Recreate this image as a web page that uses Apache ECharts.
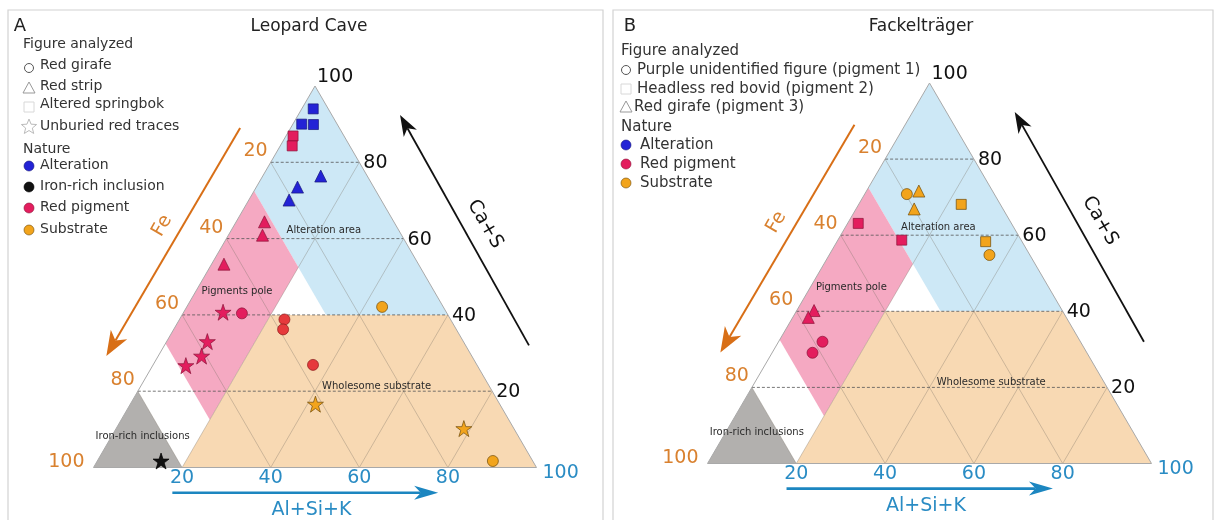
<!DOCTYPE html>
<html><head><meta charset="utf-8">
<script src="https://cdn.jsdelivr.net/npm/echarts@6/dist/echarts.min.js"></script>
<style>html,body{margin:0;padding:0;background:#fff}#c{width:1217px;height:520px}</style>
</head><body><div id="c"></div>
<script>
// ---------------- DATA (ternary compositions: [Fe, Al+Si+K, Ca+S]) ----------------
const ticks = [20, 40, 60, 80];
const edgeTicks = [20, 40, 60, 80, 100];
const panelTitles = ['Leopard Cave', 'Fackelträger'];
const panelLetters = ['A', 'B'];

// Panel A – Leopard Cave
const aAlterationSquares   = [[3.4, 2.6, 94.0], [8.0, 2.0, 90.0], [5.4, 4.7, 89.9]];
const aPigmentSquares      = [[11.5, 1.6, 86.9], [13.0, 2.7, 84.3]];
const aAlterationTriangles = [[10.5, 13.1, 76.4], [17.2, 9.3, 73.5], [20.8, 9.1, 70.1]];
const aPigmentTriangles    = [[29.2, 6.4, 64.4], [31.4, 7.7, 60.9], [43.9, 2.8, 53.3]];
const aPigmentCirclesPole  = [[46.3, 13.3, 40.4]];
const aPigmentCirclesSub   = [[37.5, 23.7, 38.8], [39.1, 24.7, 36.2], [37.0, 36.1, 26.9]];
const aPigmentStars        = [[50.4, 8.9, 40.7], [57.8, 9.2, 33.0], [61.0, 9.8, 29.2], [65.8, 7.5, 26.7]];
const aSubstrateCircles    = [[13.8, 44.1, 42.1], [9.0, 89.3, 1.7]];
const aSubstrateStars      = [[41.6, 41.8, 16.6], [11.3, 78.5, 10.2]];
const aIronStars           = [[83.9, 14.4, 1.7]];

// Panel B – Fackelträger
const bPigmentSquares      = [[34.5, 2.4, 63.1], [26.9, 14.4, 58.7]];
const bSubstrateSquares    = [[8.8, 23.1, 68.1], [8.2, 33.5, 58.3]];
const bSubstrateCircles    = [[19.7, 9.5, 70.8], [9.1, 36.1, 54.8]];
const bSubstrateTriangles  = [[16.6, 11.8, 71.6], [20.0, 13.1, 66.9]];
const bPigmentTriangles    = [[55.9, 3.9, 40.2], [58.1, 3.5, 38.4]];
const bPigmentCircles      = [[58.0, 9.9, 32.0], [61.8, 9.1, 29.1]];

// Field boundaries (ternary vertices)
const regions = [
  {name: 'Alteration area',     pts: [[0, 0, 100], [27.5, 0, 72.5], [27.5, 32.5, 40], [0, 60, 40]]},
  {name: 'Pigments pole',       pts: [[27.5, 0, 72.5], [27.5, 20, 52.5], [67.5, 20, 12.5], [67.5, 0, 32.5]]},
  {name: 'Wholesome substrate', pts: [[40, 20, 40], [0, 60, 40], [0, 100, 0], [80, 20, 0]]},
  {name: 'Iron-rich inclusions',pts: [[100, 0, 0], [80, 20, 0], [80, 0, 20]]}
];
const regionLabels = [
  {text: 'Alteration area', at: [52.0, 62.1]},
  {text: 'Pigments pole', at: [32.4, 46.2]},
  {text: 'Wholesome substrate', at: [63.9, 21.2]},
  {text: 'Iron-rich inclusions', at: [11.1, 8.1]}
];
// ---------------- STYLE ----------------
const regionFill = {
  'Alteration area': '#cde8f6',
  'Pigments pole': '#f5a9c2',
  'Wholesome substrate': '#f8d9b3',
  'Iron-rich inclusions': '#b2b0ae'
};
const natureStyle = {
  'Alteration': {color: '#2323d6', border: '#17177a'},
  'Iron-rich inclusion': {color: '#111111', border: '#000000'},
  'Red pigment': {color: '#e31d5e', border: '#8a1238'},
  'Red pigment2': {color: '#e63a3c', border: '#8a1a1a'},
  'Substrate': {color: '#f2a41c', border: '#6e4a08'}
};
const STAR = 'path://M50,0 L61.8,35.1 L98.5,35.1 L68.8,56.9 L80.2,92.7 L50,71 L19.8,92.7 L31.2,56.9 L1.5,35.1 L38.2,35.1 Z';
const shapeStyle = {
  circle: {symbol: 'circle', size: 11},
  triangle: {symbol: 'triangle', size: 12},
  square: {symbol: 'rect', size: 10},
  star: {symbol: STAR, size: 16}
};
const grids = [
  {left: 93.5, top: 86, width: 443, height: 381.5},
  {left: 707.5, top: 83, width: 444, height: 380.5}
];
const groupsA = [
  {nature: 'Alteration', shape: 'square', data: aAlterationSquares},
  {nature: 'Red pigment', shape: 'square', data: aPigmentSquares},
  {nature: 'Alteration', shape: 'triangle', data: aAlterationTriangles},
  {nature: 'Red pigment', shape: 'triangle', data: aPigmentTriangles},
  {nature: 'Red pigment', shape: 'circle', data: aPigmentCirclesPole},
  {nature: 'Red pigment2', shape: 'circle', data: aPigmentCirclesSub},
  {nature: 'Red pigment', shape: 'star', data: aPigmentStars},
  {nature: 'Substrate', shape: 'circle', data: aSubstrateCircles},
  {nature: 'Substrate', shape: 'star', data: aSubstrateStars},
  {nature: 'Iron-rich inclusion', shape: 'star', data: aIronStars}
];
const groupsB = [
  {nature: 'Red pigment', shape: 'square', data: bPigmentSquares},
  {nature: 'Substrate', shape: 'square', data: bSubstrateSquares},
  {nature: 'Substrate', shape: 'circle', data: bSubstrateCircles},
  {nature: 'Substrate', shape: 'triangle', data: bSubstrateTriangles},
  {nature: 'Red pigment', shape: 'triangle', data: bPigmentTriangles},
  {nature: 'Red pigment', shape: 'circle', data: bPigmentCircles}
];

const FONT = '"DejaVu Sans", Verdana, sans-serif';
const ORANGE = '#d9812f', ORANGE_ARROW = '#d86f17', BLUE = '#2a8cc4', BLUE_ARROW = '#1c86c0';

function tern(p) { return [p[1] + p[2] / 2, p[2]]; }

function seg(a, b, style) { return {type: 'line', shape: {x1: a[0], y1: a[1], x2: b[0], y2: b[1]}, style: style}; }
function txt(x, y, text, fill, size, align, vAlign, rot) {
  return {type: 'text', x: x, y: y, rotation: rot || 0,
    style: {text: text, fill: fill, font: size + 'px ' + FONT, align: align || 'center', verticalAlign: vAlign || 'middle'}};
}
function arrow(p0, p1, color, lw, hl, hw) {
  const dx = p1[0] - p0[0], dy = p1[1] - p0[1], L = Math.hypot(dx, dy);
  const ux = dx / L, uy = dy / L, nx = -uy, ny = ux;
  const bx = p1[0] - ux * hl, by = p1[1] - uy * hl;
  const kx = p1[0] - ux * hl * 0.72, ky = p1[1] - uy * hl * 0.72;
  return [
    seg(p0, [kx, ky], {stroke: color, lineWidth: lw}),
    {type: 'polygon', shape: {points: [p1, [bx + nx * hw / 2, by + ny * hw / 2], [kx, ky], [bx - nx * hw / 2, by - ny * hw / 2]]},
      style: {fill: color}}
  ];
}

function decor(pi) {
  return {
    type: 'custom', xAxisIndex: pi, yAxisIndex: pi, z: 1, silent: true, clip: false,
    data: [[0, 0]],
    renderItem: function (params, api) {
      const C = p => api.coord(tern(p));
      const D = xy => api.coord(xy);
      const ch = [];
      regions.forEach(r => ch.push({type: 'polygon', shape: {points: r.pts.map(C)}, style: {fill: regionFill[r.name]}}));
      const diag = {stroke: 'rgba(120,110,100,0.38)', lineWidth: 0.9};
      ticks.forEach(t => {
        ch.push(seg(C([t, 0, 100 - t]), C([t, 100 - t, 0]), diag));
        ch.push(seg(C([100 - t, t, 0]), C([0, t, 100 - t]), diag));
      });
      const dash = {stroke: '#555', lineWidth: 0.8, lineDash: [3, 2]};
      ticks.forEach(t => ch.push(seg(C([100 - t, 0, t]), C([0, 100 - t, t]), dash)));
      ch.push({type: 'polygon', shape: {points: [C([100, 0, 0]), C([0, 100, 0]), C([0, 0, 100])]},
        style: {fill: null, stroke: '#a9a9a9', lineWidth: 1}});
      // tick labels
      edgeTicks.forEach(v => {
        const f = C([v, 0, 100 - v]);
        if (v === 100) ch.push(txt(f[0] - 9, f[1] - 5, String(v), ORANGE, 19, 'right'));
        else ch.push(txt(f[0] - 3, f[1] - 11, String(v), ORANGE, 19, 'right'));
        const c = C([0, 100 - v, v]);
        if (v === 100) ch.push(txt(c[0] + 2, c[1] - 9, String(v), '#111', 19, 'left'));
        else ch.push(txt(c[0] + 4, c[1] + 1, String(v), '#111', 19, 'left'));
        const a = C([100 - v, v, 0]);
        if (v === 100) ch.push(txt(a[0] + 6, a[1] + 6, String(v), BLUE, 19, 'left'));
        else ch.push(txt(a[0], a[1] + 11, String(v), BLUE, 19, 'center'));
      });
      regionLabels.forEach(l => { const p = D(l.at); ch.push(txt(p[0], p[1], l.text, '#2a2a2a', 10, 'center')); });
      // axis arrows and names
      ch.push.apply(ch, arrow(D([33.1, 89.0]), D([2.9, 29.2]), ORANGE_ARROW, 2, 25, 19));
      ch.push.apply(ch, arrow(D([98.3, 32.0]), D([69.2, 92.4]), '#111', 1.8, 21, 15));
      ch.push.apply(ch, arrow(D([17.8, -6.6]), D([77.8, -6.6]), BLUE_ARROW, 2.6, 24, 14));
      let p = D([15.5, 63.4]); ch.push(txt(p[0], p[1], 'Fe', ORANGE, 19, 'center', 'middle', Math.PI / 3));
      p = D([88.4, 63.8]); ch.push(txt(p[0], p[1], 'Ca+S', '#111', 19, 'center', 'middle', -Math.PI / 3));
      p = D([49.2, -11.2]); ch.push(txt(p[0], p[1], 'Al+Si+K', BLUE, 19, 'center', 'middle'));
      return {type: 'group', children: ch};
    }
  };
}

function pointSeries(pi, groups) {
  return groups.map(g => ({
    type: 'scatter', xAxisIndex: pi, yAxisIndex: pi, z: 5, silent: true,
    symbol: shapeStyle[g.shape].symbol, symbolSize: shapeStyle[g.shape].size,
    itemStyle: {color: natureStyle[g.nature].color, borderColor: natureStyle[g.nature].border, borderWidth: 0.7, opacity: 1},
    data: g.data.map(tern)
  }));
}

// ---------------- LEGENDS (graphic) ----------------
function legendText(x, y, t, fs) { return {type: 'text', x: x, y: y, style: {text: t, fill: '#333', font: (fs || 14) + 'px ' + FONT, align: 'left', verticalAlign: 'middle'}}; }
function hollow(shape, x, y, stroke) {
  if (shape === 'circle') return {type: 'circle', shape: {cx: x, cy: y, r: 4.5}, style: {fill: null, stroke: stroke, lineWidth: 1}};
  if (shape === 'triangle') return {type: 'polygon', shape: {points: [[x, y - 6], [x + 6, y + 5], [x - 6, y + 5]]}, style: {fill: null, stroke: stroke, lineWidth: 1}};
  if (shape === 'square') return {type: 'rect', shape: {x: x - 5, y: y - 5, width: 10, height: 10}, style: {fill: null, stroke: stroke, lineWidth: 1}};
  const pts = [];
  for (let i = 0; i < 10; i++) { const r = i % 2 ? 3.5 : 8, a = -Math.PI / 2 + i * Math.PI / 5; pts.push([x + r * Math.cos(a), y + r * Math.sin(a)]); }
  return {type: 'polygon', shape: {points: pts}, style: {fill: null, stroke: stroke, lineWidth: 1}};
}
function dot(x, y, nat) { return {type: 'circle', shape: {cx: x, cy: y, r: 5}, style: {fill: natureStyle[nat].color, stroke: natureStyle[nat].border, lineWidth: 0.6}}; }

const graphics = [
  {type: 'rect', shape: {x: 8, y: 10, width: 595, height: 520}, style: {fill: null, stroke: '#d2d2d2', lineWidth: 1.2}, z: 0},
  {type: 'rect', shape: {x: 613, y: 10, width: 600, height: 520}, style: {fill: null, stroke: '#d2d2d2', lineWidth: 1.2}, z: 0},
  {type: 'text', x: 20, y: 26, style: {text: panelLetters[0], fill: '#222', font: '18px ' + FONT, align: 'center', verticalAlign: 'middle'}},
  {type: 'text', x: 630, y: 26, style: {text: panelLetters[1], fill: '#222', font: '18px ' + FONT, align: 'center', verticalAlign: 'middle'}},
  {type: 'text', x: 309, y: 27, style: {text: panelTitles[0], fill: '#222', font: '17px ' + FONT, align: 'center', verticalAlign: 'middle'}},
  {type: 'text', x: 921, y: 27, style: {text: panelTitles[1], fill: '#222', font: '17px ' + FONT, align: 'center', verticalAlign: 'middle'}},
  // legend A
  legendText(23, 44, 'Figure analyzed'),
  hollow('circle', 29, 68, '#555'), legendText(40, 65, 'Red girafe'),
  hollow('triangle', 29, 88, '#999'), legendText(40, 86, 'Red strip'),
  hollow('square', 29, 107, '#d8d8d8'), legendText(40, 104, 'Altered springbok'),
  hollow('star', 29, 127, '#bbb'), legendText(40, 126, 'Unburied red traces'),
  legendText(23, 149, 'Nature'),
  dot(29, 166, 'Alteration'), legendText(40, 165, 'Alteration'),
  dot(29, 187, 'Iron-rich inclusion'), legendText(40, 186, 'Iron-rich inclusion'),
  dot(29, 208, 'Red pigment'), legendText(40, 207, 'Red pigment'),
  dot(29, 230, 'Substrate'), legendText(40, 229, 'Substrate'),
  // legend B
  legendText(621, 51, 'Figure analyzed', 15),
  hollow('circle', 626, 70, '#555'), legendText(637, 70, 'Purple unidentified figure (pigment 1)', 15),
  hollow('square', 626, 89, '#d8d8d8'), legendText(637, 89, 'Headless red bovid (pigment 2)', 15),
  hollow('triangle', 626, 107, '#999'), legendText(634, 107, 'Red girafe (pigment 3)', 15),
  legendText(621, 127, 'Nature', 15),
  dot(626, 145, 'Alteration'), legendText(640, 145, 'Alteration', 15),
  dot(626, 164, 'Red pigment'), legendText(640, 164, 'Red pigment', 15),
  dot(626, 183, 'Substrate'), legendText(640, 183, 'Substrate', 15)
];

const chart = echarts.init(document.getElementById('c'), null, {renderer: 'canvas'});
chart.setOption({
  animation: false,
  backgroundColor: '#ffffff',
  grid: grids,
  xAxis: grids.map((g, i) => ({gridIndex: i, type: 'value', min: 0, max: 100, show: false})),
  yAxis: grids.map((g, i) => ({gridIndex: i, type: 'value', min: 0, max: 100, show: false})),
  graphic: graphics,
  series: [decor(0), decor(1)].concat(pointSeries(0, groupsA), pointSeries(1, groupsB))
});
</script>
</body></html>
